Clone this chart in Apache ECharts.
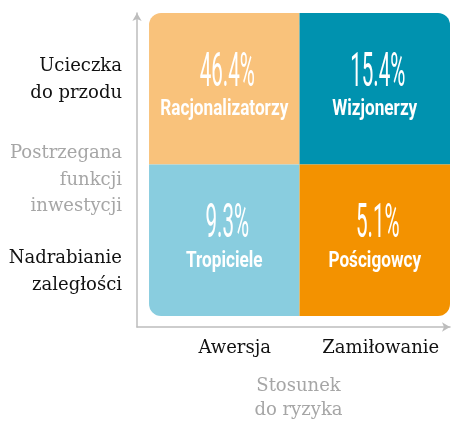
<!DOCTYPE html>
<html>
<head>
<meta charset="utf-8">
<script src="https://cdn.jsdelivr.net/npm/echarts@6/dist/echarts.min.js"></script>
<style>
  html, body { margin: 0; padding: 0; background: #fff; }
  #chart { width: 451px; height: 423px; }
</style>
</head>
<body>
<div id="chart"></div>
<script>
// osie: stosunek do ryzyka (x) i postrzegana funkcja inwestycji (y)
var xLabels = ['Awersja', 'Zamiłowanie'];
var yLabels = ['Nadrabianie\nzaległości', 'Ucieczka\ndo przodu'];
var xName = 'Stosunek\ndo ryzyka';
var yName = 'Postrzegana\nfunkcji\ninwestycji';

// ćwiartki: kolumna, wiersz, udział %, nazwa
var segCols = [0, 1, 0, 1];
var segRows = [1, 1, 0, 0];
var segShare = [46.4, 15.4, 9.3, 5.1];
var segNames = ['Racjonalizatorzy', 'Wizjonerzy', 'Tropiciele', 'Pościgowcy'];
var segColors = ['#F9C27B', '#0092AF', '#89CDDF', '#F39200'];

var chart = echarts.init(document.getElementById('chart'));

var data = [];
for (var i = 0; i < segNames.length; i++) {
    data.push({
        value: [segCols[i], segRows[i], segShare[i], segNames[i]],
        itemStyle: { color: segColors[i] }
    });
}

var serif = '"DejaVu Serif", "Liberation Serif", serif';
var R = 12;

function renderItem(params, api) {
    var col = api.value(0), row = api.value(1);
    var tl = api.coord([col, row + 1]);
    var br = api.coord([col + 1, row]);
    var w = br[0] - tl[0], h = br[1] - tl[1];
    var r;
    if (row === 1) r = col === 0 ? [R, 0, 0, 0] : [0, R, 0, 0];
    else r = col === 0 ? [0, 0, 0, R] : [0, 0, R, 0];
    var cx = tl[0] + w / 2, cy = tl[1] + h / 2;
    return {
        type: 'group',
        children: [{
            type: 'rect',
            shape: { x: tl[0], y: tl[1], width: w, height: h, r: r },
            style: { fill: api.visual('color') }
        }, {
            type: 'text',
            x: cx + 3, y: cy - 15,
            scaleX: 0.42,
            style: {
                text: api.value(2).toFixed(1) + '%',
                fill: '#fff',
                font: 'normal 49px Roboto, sans-serif',
                align: 'center',
                verticalAlign: 'middle'
            }
        }, {
            type: 'text',
            x: cx, y: cy + 21,
            scaleX: 0.78,
            style: {
                text: segNames[params.dataIndex],
                fill: '#fff',
                font: 'bold 22px Roboto, sans-serif',
                align: 'center',
                verticalAlign: 'middle'
            }
        }]
    };
}

var axisLineStyle = {
    show: true,
    onZero: false,
    symbol: ['none', 'arrow'],
    symbolSize: [7, 8],
    lineStyle: { color: '#BDBDBD', width: 1.5 }
};

var option = {
    animation: false,
    grid: { left: 137, right: 1, top: 13, bottom: 96, containLabel: false, outerBoundsMode: 'none' },
    xAxis: {
        type: 'value',
        min: -0.08,
        max: 2,
        name: xName,
        nameLocation: 'middle',
        nameGap: 47,
        nameMoveOverlap: false,
        nameTextStyle: {
            color: '#A6A6A6', fontFamily: serif, fontSize: 18, lineHeight: 24,
            padding: [0, 0, 0, 10]
        },
        axisLine: axisLineStyle,
        axisTick: { show: false },
        splitLine: { show: false },
        axisLabel: {
            customValues: [0.57, 1.54],
            hideOverlap: false,
            margin: 12,
            color: '#111',
            fontFamily: serif,
            fontSize: 18,
            formatter: function (v) { return v < 1 ? xLabels[0] : xLabels[1]; }
        }
    },
    yAxis: {
        type: 'value',
        min: -0.073,
        max: 2,
        // pusty pierwszy wiersz przesuwa nazwę osi nieco w dół
        name: '{s| }\n' + yName,
        nameLocation: 'middle',
        nameRotate: 0,
        nameGap: 15,
        nameMoveOverlap: false,
        nameTextStyle: {
            color: '#A6A6A6', fontFamily: serif, fontSize: 18, lineHeight: 26.5,
            align: 'right',
            rich: { s: { lineHeight: 20, fontSize: 10 } }
        },
        axisLine: axisLineStyle,
        axisTick: { show: false },
        splitLine: { show: false },
        axisLabel: {
            customValues: [0.29, 1.56],
            hideOverlap: false,
            margin: 15,
            color: '#111',
            fontFamily: serif,
            fontSize: 18,
            lineHeight: 26.5,
            align: 'right',
            formatter: function (v) { return v < 1 ? yLabels[0] : yLabels[1]; }
        }
    },
    series: [{
        type: 'custom',
        renderItem: renderItem,
        data: data,
        clip: false
    }]
};

chart.setOption(option);
</script>
</body>
</html>
